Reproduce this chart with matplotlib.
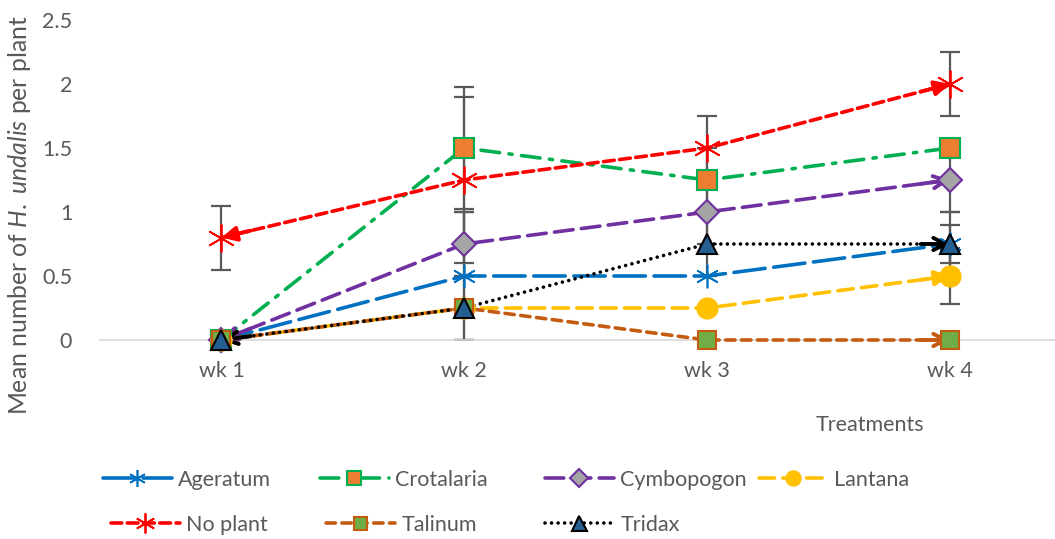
import numpy as np
import matplotlib
matplotlib.use("Agg")
import matplotlib.pyplot as plt
from matplotlib.lines import Line2D

plt.rcParams['font.family'] = ['Lato', 'DejaVu Sans']
plt.rcParams['mathtext.fontset'] = 'custom'
plt.rcParams['mathtext.it'] = 'Lato:italic'
plt.rcParams['mathtext.rm'] = 'Lato'

#----------------------------------------------------------------
# Data
weeks = ["wk 1", "wk 2", "wk 3", "wk 4"]
names = ["Ageratum", "Crotalaria", "Cymbopogon", "Lantana", "No plant", "Talinum", "Tridax"]

ageratum = [0, 0.5, 0.5, 0.75]
crotalaria = [0, 1.5, 1.25, 1.5]
cymbopogon = [0, 0.75, 1.0, 1.25]
lantana = [0, 0.25, 0.25, 0.5]
no_plant = [0.8, 1.25, 1.5, 2.0]
talinum = [0, 0.25, 0, 0]
tridax = [0, 0.25, 0.75, 0.75]

# error bars (+/-)
err_ageratum = [0, 0.5, 0, 0.15]
err_crotalaria = [0, 0.48, 0.25, 0]
err_cymbopogon = [0, 0.25, 0.25, 0.25]
err_lantana = [0, 0, 0, 0.22]
err_no_plant = [0.25, 0.65, 0.25, 0.25]
err_talinum = [0, 0, 0, 0]
err_tridax = [0, 0.25, 0.25, 0.25]
#----------------------------------------------------------------

series = [ageratum, crotalaria, cymbopogon, lantana, no_plant, talinum, tridax]
errors = [err_ageratum, err_crotalaria, err_cymbopogon, err_lantana, err_no_plant, err_talinum, err_tridax]

LW = 2.6
# style per series: line colour, dashes, marker, marker size, face, edge, arrow style at ends
styles = [
    dict(c='#0070C0', dash=(8.7, 2.4), m=(6, 2, 0), ms=17, fc='#0070C0', ec='#0070C0', mew=1.2, arrow=None),
    dict(c='#00B050', dash=(5.2, 2.6, 0.9, 2.6), m='s', ms=14, fc='#ED7D31', ec='#00B050', mew=1.5, arrow=None),
    dict(c='#7030A0', dash=(5.2, 2.3), m='D', ms=12.5, fc='#A5A5A5', ec='#7030A0', mew=1.5, arrow='->'),
    dict(c='#FFC000', dash=(4.3, 2.3), m='o', ms=15, fc='#FFC000', ec='#FFC000', mew=1, arrow='-|>'),
    dict(c='#FF0000', dash=(3, 1.5), m=(6, 2, 0), ms=20, fc='#FF0000', ec='#FF0000', mew=1.3, arrow='-|>'),
    dict(c='#C55A11', dash=(2.6, 1.8), m='s', ms=13, fc='#70AD47', ec='#C55A11', mew=1.5, arrow='->'),
    dict(c='#000000', dash=(0.01, 1.8), m='^', ms=15, fc='#255E91', ec='#000000', mew=1.5, arrow='->'),
]
# legend entry positions (left edge px, centre y px)
leg_pos = [(103, 480), (320, 480), (545, 480), (759, 480), (111, 525), (326, 525), (545, 525)]

x = np.arange(len(weeks))

fig = plt.figure(figsize=(10.55, 5.39), dpi=100)
ax = fig.add_axes([100/1055, 1-340/539, 964/1055, 320/539])

# error bars first (grey)
for y, e in zip(series, errors):
    e = np.array(e, dtype=float)
    mask = e > 0
    ax.errorbar(x[mask], np.array(y)[mask], yerr=e[mask], fmt='none', ecolor='#595959',
                elinewidth=1.6, capsize=7, capthick=1.6, zorder=2)

for y, s in zip(series, styles):
    ax.plot(x, y, color=s['c'], lw=LW, dashes=s['dash'], dash_capstyle='round',
            solid_capstyle='round', zorder=3, clip_on=False)
    if s['arrow']:
        for a, b in [(0, 1), (3, 2)]:
            if s['c'] == '#FFC000' and a == 0:
                continue
            xa, ya = x[a], y[a]
            xb, yb = x[b], y[b]
            xt = xa + 0.12 * (xb - xa)
            yt = ya + 0.12 * (yb - ya)
            ax.annotate('', xy=(xa, ya), xytext=(xt, yt),
                        arrowprops=dict(arrowstyle=s['arrow'], color=s['c'], lw=2.8,
                                        mutation_scale=22, shrinkA=0, shrinkB=0),
                        zorder=4, annotation_clip=False)

for y, s in zip(series, styles):
    ax.plot(x, y, linestyle='none', marker=s['m'], ms=s['ms'], mfc=s['fc'], mec=s['ec'],
            mew=s['mew'], zorder=5, clip_on=False)

ax.set_xlim(-0.5, 3.47)
ax.set_ylim(0, 2.5)
ax.set_yticks([0, 0.5, 1, 1.5, 2, 2.5])
ax.set_yticklabels(['0', '0.5', '1', '1.5', '2', '2.5'])
ax.set_xticks(x)
ax.set_xticklabels(weeks)
ax.tick_params(length=0, labelsize=15.5, colors='#595959', pad=15)
ax.tick_params(axis='y', pad=20)
for sp in ['top', 'right', 'left']:
    ax.spines[sp].set_visible(False)
ax.spines['bottom'].set_color('#D9D9D9')
ax.spines['bottom'].set_linewidth(1.2)

fig.text(870/1055, 1-425/539, "Treatments", ha='center', va='center', fontsize=15.5, color='#595959')
fig.text(20/1055, 1-215/539, r"Mean number of $\it{H.\ undalis}$ per plant", rotation=90,
         ha='center', va='center', fontsize=17.8, color='#595959')

for s, name, (px, py) in zip(styles, names, leg_pos):
    h = Line2D([], [], color=s['c'], lw=LW, dashes=s['dash'], dash_capstyle='round',
               marker=s['m'], ms=s['ms'] * 0.72, mfc=s['fc'], mec=s['ec'], mew=s['mew'])
    leg = fig.legend([h], [name], loc='center left', bbox_to_anchor=(px/1055, 1-py/539),
                     frameon=False, fontsize=15.5, handlelength=3.2, handletextpad=0.3,
                     borderpad=0, borderaxespad=0)
    for t in leg.get_texts():
        t.set_color('#595959')

plt.savefig("out.png", dpi=100)
